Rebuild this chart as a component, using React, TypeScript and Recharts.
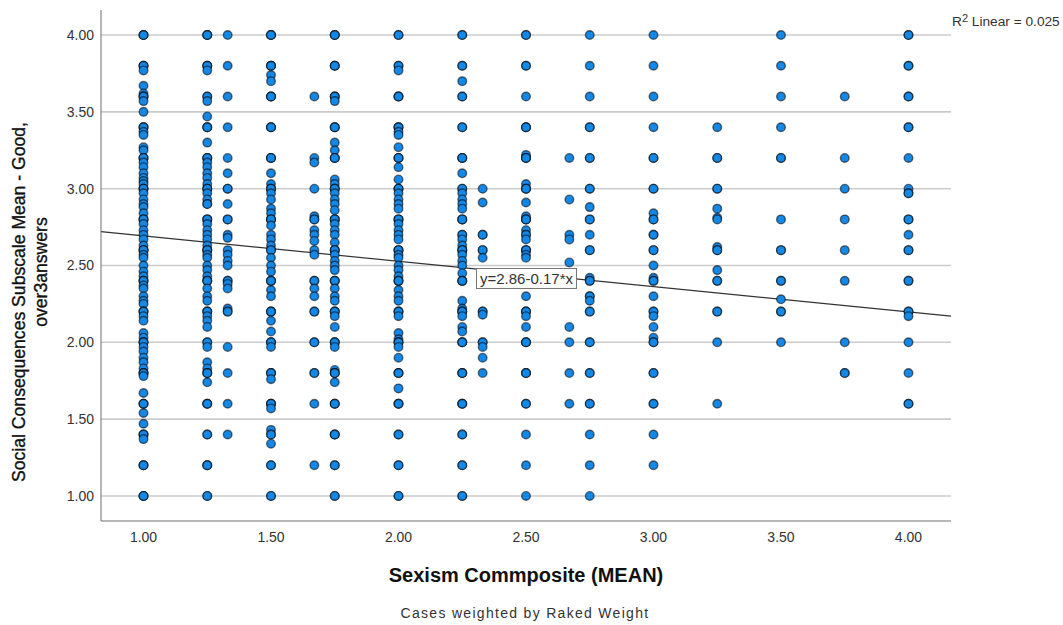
import React from 'react';
import { ScatterChart, Scatter, XAxis, YAxis, CartesianGrid, ReferenceLine } from 'recharts';

const xTicks = [1, 1.5, 2, 2.5, 3, 3.5, 4];
const yTicks = [1, 1.5, 2, 2.5, 3, 3.5, 4];

// repeated values are overlapping cases, they make the outline darker
const col100 = [4, 4, 4, 3.8, 3.8, 3.8, 3.77, 3.67, 3.62, 3.6, 3.6, 3.6, 3.57, 3.5, 3.4, 3.4, 3.4, 3.37, 3.35, 3.27, 3.25, 3.2, 3.2, 3.2, 3.17, 3.14, 3.1, 3.07, 3.05, 3.03, 3, 3, 3, 2.97, 2.93, 2.9, 2.88, 2.84, 2.8, 2.8, 2.8, 2.77, 2.73, 2.7, 2.67, 2.63, 2.6, 2.6, 2.6, 2.57, 2.55, 2.5, 2.46, 2.43, 2.4, 2.4, 2.4, 2.37, 2.35, 2.3, 2.27, 2.25, 2.2, 2.2, 2.2, 2.17, 2.14, 2.06, 2.03, 2, 2, 2, 1.97, 1.94, 1.9, 1.87, 1.83, 1.8, 1.8, 1.8, 1.78, 1.67, 1.6, 1.6, 1.6, 1.54, 1.47, 1.4, 1.4, 1.4, 1.37, 1.2, 1.2, 1.2, 1, 1, 1];
const col125 = [4, 4, 4, 3.8, 3.8, 3.8, 3.77, 3.6, 3.6, 3.57, 3.47, 3.4, 3.4, 3.4, 3.3, 3.2, 3.2, 3.2, 3.17, 3.14, 3.1, 3.07, 3.03, 3, 3, 3, 2.97, 2.93, 2.9, 2.9, 2.8, 2.8, 2.8, 2.77, 2.73, 2.7, 2.67, 2.63, 2.6, 2.6, 2.6, 2.57, 2.55, 2.5, 2.47, 2.43, 2.4, 2.4, 2.4, 2.35, 2.3, 2.27, 2.2, 2.2, 2.2, 2.17, 2.14, 2.1, 2, 2, 1.97, 1.87, 1.83, 1.8, 1.8, 1.8, 1.74, 1.6, 1.6, 1.6, 1.4, 1.4, 1.2, 1.2, 1.2, 1, 1];
const col133 = [4, 3.8, 3.6, 3.4, 3.2, 3.1, 3, 3, 2.9, 2.8, 2.8, 2.7, 2.68, 2.6, 2.57, 2.53, 2.5, 2.4, 2.4, 2.38, 2.35, 2.22, 2.2, 2.2, 1.97, 1.8, 1.6, 1.4];
const col150 = [4, 4, 4, 3.8, 3.8, 3.8, 3.74, 3.7, 3.6, 3.6, 3.6, 3.4, 3.4, 3.4, 3.2, 3.2, 3.2, 3.1, 3.03, 3, 3, 3, 2.97, 2.93, 2.87, 2.84, 2.8, 2.8, 2.8, 2.76, 2.7, 2.67, 2.63, 2.6, 2.6, 2.55, 2.5, 2.46, 2.4, 2.4, 2.4, 2.34, 2.3, 2.2, 2.2, 2.2, 2.14, 2.07, 2, 2, 2, 1.97, 1.8, 1.8, 1.8, 1.76, 1.6, 1.6, 1.6, 1.57, 1.43, 1.4, 1.4, 1.34, 1.2, 1.2, 1, 1];
const col167 = [3.6, 3.2, 3.17, 3, 2.82, 2.8, 2.8, 2.73, 2.7, 2.66, 2.6, 2.57, 2.4, 2.4, 2.35, 2.3, 2.2, 2.2, 2, 2, 1.8, 1.8, 1.6, 1.2];
const col175 = [4, 4, 4, 3.8, 3.8, 3.8, 3.6, 3.6, 3.6, 3.57, 3.4, 3.4, 3.4, 3.3, 3.25, 3.2, 3.2, 3.2, 3.06, 3.03, 3, 3, 3, 2.97, 2.93, 2.9, 2.86, 2.8, 2.8, 2.8, 2.77, 2.73, 2.7, 2.65, 2.6, 2.6, 2.6, 2.57, 2.53, 2.5, 2.47, 2.4, 2.4, 2.4, 2.35, 2.3, 2.27, 2.2, 2.2, 2.2, 2.17, 2.1, 2, 2, 2, 1.97, 1.82, 1.8, 1.8, 1.8, 1.74, 1.6, 1.6, 1.6, 1.4, 1.4, 1.4, 1.2, 1.2, 1, 1];
const col200 = [4, 4, 3.8, 3.8, 3.77, 3.6, 3.6, 3.6, 3.4, 3.4, 3.4, 3.37, 3.35, 3.27, 3.2, 3.2, 3.2, 3.14, 3.06, 3, 3, 3, 2.97, 2.93, 2.9, 2.87, 2.8, 2.8, 2.8, 2.77, 2.73, 2.7, 2.67, 2.6, 2.6, 2.6, 2.57, 2.55, 2.5, 2.47, 2.43, 2.4, 2.4, 2.4, 2.34, 2.3, 2.27, 2.2, 2.2, 2.2, 2.17, 2.06, 2.02, 2, 2, 2, 1.97, 1.9, 1.8, 1.8, 1.8, 1.7, 1.6, 1.6, 1.6, 1.4, 1.4, 1.2, 1.2, 1, 1];
const col225 = [4, 4, 3.8, 3.8, 3.7, 3.6, 3.6, 3.4, 3.4, 3.2, 3.2, 3.2, 3.1, 3, 3, 2.97, 2.93, 2.9, 2.87, 2.8, 2.8, 2.8, 2.7, 2.7, 2.67, 2.63, 2.6, 2.6, 2.6, 2.57, 2.53, 2.5, 2.45, 2.4, 2.4, 2.4, 2.27, 2.22, 2.2, 2.2, 2.2, 2.17, 2.1, 2.07, 2, 2, 2, 1.8, 1.8, 1.8, 1.6, 1.6, 1.6, 1.4, 1.4, 1.2, 1.2, 1, 1];
const col233 = [3, 2.91, 2.7, 2.7, 2.6, 2.6, 2.55, 2.2, 2.2, 2.18, 2, 2, 1.97, 1.9, 1.8];
const col250 = [4, 4, 3.8, 3.8, 3.6, 3.4, 3.4, 3.4, 3.22, 3.2, 3.2, 3.2, 3.03, 3, 3, 3, 2.91, 2.82, 2.8, 2.8, 2.8, 2.73, 2.7, 2.7, 2.67, 2.6, 2.6, 2.6, 2.57, 2.55, 2.3, 2.2, 2.2, 2.2, 2.17, 2.1, 2, 2, 2, 1.8, 1.8, 1.8, 1.6, 1.6, 1.4, 1.2, 1];
const col267 = [3.2, 2.93, 2.7, 2.67, 2.52, 2.1, 2, 1.8, 1.6];
const col275 = [4, 3.8, 3.6, 3.4, 3.4, 3.2, 3.2, 3, 3, 2.88, 2.8, 2.8, 2.7, 2.6, 2.6, 2.42, 2.4, 2.4, 2.3, 2.3, 2.27, 2.2, 2.2, 2, 2, 1.8, 1.8, 1.6, 1.6, 1.4, 1.2, 1];
const col300 = [4, 3.8, 3.6, 3.4, 3.2, 3.2, 3, 3, 2.84, 2.8, 2.8, 2.7, 2.7, 2.6, 2.6, 2.5, 2.42, 2.4, 2.4, 2.3, 2.2, 2.2, 2.17, 2.1, 2.03, 2, 2, 1.8, 1.8, 1.6, 1.6, 1.4, 1.2];
const col325 = [3.4, 3.2, 3.2, 3, 3, 2.87, 2.81, 2.8, 2.62, 2.6, 2.6, 2.47, 2.4, 2.4, 2.2, 2.2, 2, 1.6];
const col350 = [4, 3.8, 3.6, 3.4, 3.2, 3.2, 2.8, 2.6, 2.6, 2.4, 2.4, 2.28, 2.2, 2.2, 2];
const col375 = [3.6, 3.2, 3, 2.8, 2.6, 2.4, 2, 1.8, 1.8];
const col400 = [4, 4, 3.8, 3.8, 3.6, 3.6, 3.4, 3.4, 3.2, 3, 2.97, 2.97, 2.8, 2.8, 2.7, 2.6, 2.6, 2.4, 2.4, 2.2, 2.2, 2.17, 2, 1.8, 1.6, 1.6];

const columns: [number, number[]][] = [
  [1, col100], [1.25, col125], [1.33, col133], [1.5, col150], [1.67, col167], [1.75, col175],
  [2, col200], [2.25, col225], [2.33, col233], [2.5, col250], [2.67, col267], [2.75, col275],
  [3, col300], [3.25, col325], [3.5, col350], [3.75, col375], [4, col400],
];

const points = columns.flatMap(([x, ys]) => ys.map((y) => ({ x, y })));

const xDomain: [number, number] = [0.8333, 4.1667];
const yDomain: [number, number] = [0.837, 4.163];

// fit line y=2.86-0.17*x at the two ends of the x axis
const fitLine = [
  { x: 0.8333, y: 2.72 },
  { x: 4.1667, y: 2.17 },
];

const font = '"Liberation Sans", Arial, sans-serif';

const Dot = (props: any) => (
  <circle cx={props.cx} cy={props.cy} r={4.3} fill="#1488e6" stroke="#000" strokeOpacity={0.55} strokeWidth={1.4} />
);

export default function App() {
  return (
    <div style={{ position: 'absolute', left: 0, top: 0, width: 1063, height: 625, background: '#fff' }}>
      <ScatterChart width={1063} height={625} margin={{ top: 10, right: 112, bottom: 0, left: 0 }}>
        <CartesianGrid vertical={false} syncWithTicks stroke="#cbcbcb" strokeWidth={1.6} />
        <XAxis
          type="number"
          dataKey="x"
          domain={xDomain}
          ticks={xTicks}
          interval={0}
          height={104}
          tickLine={false}
          tickSize={0}
          tickMargin={11}
          tickFormatter={(v) => v.toFixed(2)}
          stroke="#6e6e6e"
          tick={{ fontSize: 14, fill: '#333', fontFamily: font }}
        />
        <YAxis
          type="number"
          dataKey="y"
          domain={yDomain}
          ticks={yTicks}
          interval={0}
          width={101}
          tickLine={false}
          tickSize={0}
          tickMargin={7}
          tickFormatter={(v) => v.toFixed(2)}
          stroke="#6e6e6e"
          tick={{ fontSize: 14, fill: '#333', fontFamily: font }}
        />
        <Scatter data={points} isAnimationActive={false} shape={Dot} />
        <ReferenceLine segment={fitLine} stroke="#333" strokeWidth={1.2} />
        <text x={526} y={582} textAnchor="middle" fontSize={20} fontWeight="bold" fill="#111" fontFamily={font}>
          Sexism Commposite (MEAN)
        </text>
        <text x={525} y={618} textAnchor="middle" fontSize={14} letterSpacing={1.3} fill="#333" fontFamily={font}>
          Cases weighted by Raked Weight
        </text>
        <text transform="translate(25,302) rotate(-90)" textAnchor="middle" fontSize={17.6} stroke="#111" strokeWidth={0.35} fill="#111" fontFamily={font}>
          Social Consequences Subscale Mean - Good,
        </text>
        <text transform="translate(47,272) rotate(-90)" textAnchor="middle" fontSize={17.6} stroke="#111" strokeWidth={0.35} fill="#111" fontFamily={font}>
          over3answers
        </text>
        <text x={952} y={26} fontSize={13.7} fill="#333" fontFamily={font}>
          R<tspan dy={-4} fontSize={11}>2</tspan><tspan dy={4}> Linear = 0.025</tspan>
        </text>
      </ScatterChart>
      {/* the equation box has to sit above the fit line */}
      <div
        style={{
          position: 'absolute',
          left: 476,
          top: 268,
          width: 99,
          height: 19,
          lineHeight: '19px',
          textAlign: 'center',
          background: '#fff',
          border: '1.5px solid #777',
          fontFamily: font,
          fontSize: 15,
          color: '#333',
        }}
      >
        y=2.86-0.17*x
      </div>
    </div>
  );
}
